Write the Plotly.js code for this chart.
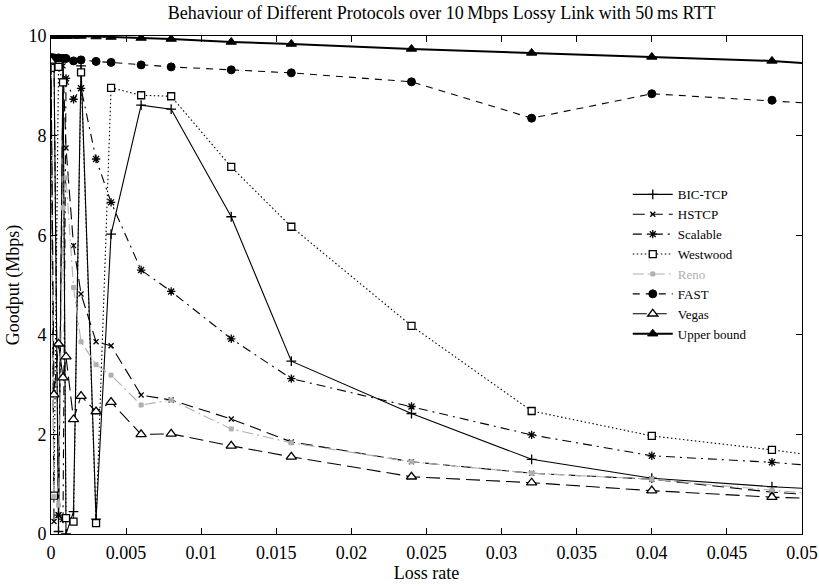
<!DOCTYPE html>
<html>
<head>
<meta charset="utf-8">
<script src="https://cdn.plot.ly/plotly-3.0.1.min.js"></script>
<style>html,body{margin:0;padding:0;background:#fff}#chart{width:819px;height:587px}</style>
</head>
<body>
<div id="chart"></div>
<script>
// Loss rates (x values) shared by all series
const lossRate = [0, 0.0002, 0.0005, 0.0008, 0.001, 0.0015, 0.002, 0.003, 0.004, 0.006, 0.008, 0.012, 0.016, 0.024, 0.032, 0.04, 0.048, 0.056];

// Goodput (Mbps) per protocol
const bicTcp     = [9.55, 9.5, 0.05, 9.5, 0.0, 0.45, 9.4, 0.3, 6.02, 8.61, 8.53, 6.37, 3.47, 2.42, 1.50, 1.12, 0.95, 0.83];
const hstcp      = [9.55, 0.25, 0.38, 9.4, 7.75, 5.79, 4.82, 3.86, 3.78, 2.79, 2.69, 2.31, 1.85, 1.45, 1.22, 1.10, 0.84, 0.68];
const scalable   = [9.55, 9.5, 0.38, 0.3, 9.15, 8.73, 8.95, 7.53, 6.66, 5.30, 4.87, 3.92, 3.12, 2.56, 1.99, 1.57, 1.44, 1.24];
const westwood   = [9.36, 0.77, 9.38, 9.07, 0.32, 0.25, 9.27, 0.22, 8.96, 8.81, 8.79, 7.37, 6.17, 4.18, 2.47, 1.97, 1.69, 1.37];
const reno       = [9.5, 0.75, 0.58, 6.55, 7.15, 4.95, 3.86, 3.40, 3.19, 2.59, 2.69, 2.11, 1.83, 1.45, 1.22, 1.10, 0.88, 0.68];
const fast       = [9.57, 9.56, 9.56, 9.55, 9.55, 9.50, 9.52, 9.49, 9.47, 9.42, 9.38, 9.32, 9.26, 9.08, 8.35, 8.84, 8.71, 8.55];
const vegas      = [9.5, 2.8, 3.82, 3.14, 3.56, 2.30, 2.77, 2.46, 2.65, 2.00, 2.01, 1.77, 1.55, 1.15, 1.03, 0.87, 0.74, 0.66];
const upperBound = [10, 10, 10, 10, 10, 10, 10, 9.99, 9.98, 9.96, 9.94, 9.88, 9.84, 9.74, 9.66, 9.58, 9.50, 9.34];

const serif = 'Liberation Serif, Times New Roman, serif';
const gray = '#b0b0b0';

function tr(name, y, dash, color, width, symbol, msize, fill) {
  return {
    x: lossRate, y: y, name: name, type: 'scatter', mode: 'lines+markers',
    line: {color: color, width: width, dash: dash},
    marker: {symbol: symbol, size: msize, color: fill,
             line: {color: color, width: 1}},
    cliponaxis: true
  };
}

const data = [
  tr('BIC-TCP', bicTcp, 'solid', '#000', 1.1, 'cross-thin', 7, '#000'),
  tr('HSTCP', hstcp, '12px,6px', '#000', 1.1, 'x-thin', 5, '#000'),
  tr('Scalable', scalable, '9px,5px,2px,5px', '#000', 1.1, 'asterisk', 7, '#000'),
  tr('Westwood', westwood, '1.5px,2.5px', '#000', 1.1, 'square', 7, '#fff'),
  tr('<span style="color:' + gray + '">Reno</span>', reno, '11px,4px,2px,4px', gray, 1.1, 'square', 4, gray),
  tr('FAST', fast, '7px,6px', '#000', 1.1, 'circle', 8, '#000'),
  tr('Vegas', vegas, '14px,6px', '#000', 1.1, 'triangle-up', 9, '#fff'),
  tr('Upper bound', upperBound, 'solid', '#000', 2, 'triangle-up', 9, '#000')
];
data[0].marker.line.width = 1.3;
data[1].marker.line.width = 1.3;
data[2].marker.line.width = 1.3;
data[3].marker.line.width = 1.3;
data[6].marker.line.width = 1.3;

const axisCommon = {
  showline: true, linecolor: '#000', linewidth: 1, mirror: 'ticks',
  ticks: 'inside', ticklen: 6, tickcolor: '#000', showgrid: false, zeroline: false,
  tickfont: {family: serif, size: 18, color: '#000'}
};

const layout = {
  width: 819, height: 587,
  margin: {l: 51, r: 17, t: 36, b: 53},
  paper_bgcolor: '#fff', plot_bgcolor: '#fff',
  title: {text: 'Behaviour of Different Protocols over 10\u2009Mbps Lossy Link with 50\u2009ms RTT',
          font: {family: serif, size: 18, color: '#000'},
          x: 0.52, xref: 'paper', xanchor: 'center', y: 0.979, yref: 'container', yanchor: 'middle'},
  xaxis: Object.assign({}, axisCommon, {
    range: [0, 0.05], dtick: 0.005, tick0: 0, ticklabelstandoff: 2,
    title: {text: 'Loss rate', font: {family: serif, size: 18, color: '#000'}, standoff: 3}
  }),
  yaxis: Object.assign({}, axisCommon, {
    range: [0, 10], dtick: 2, tick0: 0,
    title: {text: 'Goodput (Mbps)', font: {family: serif, size: 18, color: '#000'}, standoff: 4}
  }),
  showlegend: true,
  legend: {x: 0.768, y: 0.712, xanchor: 'left', yanchor: 'top', bgcolor: 'rgba(0,0,0,0)',
           font: {family: serif, size: 13, color: '#000'}, tracegroupgap: 0, itemwidth: 40},
};

Plotly.newPlot('chart', data, layout, {displayModeBar: false, staticPlot: true});
</script>
</body>
</html>
